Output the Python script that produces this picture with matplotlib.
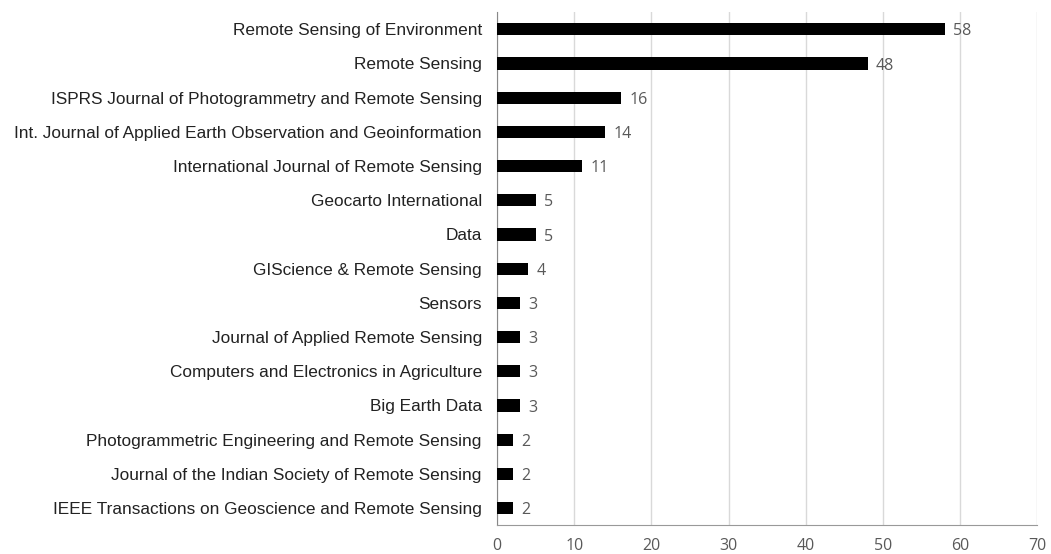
import matplotlib
matplotlib.use('Agg')
import matplotlib.pyplot as plt

journals = ['Remote Sensing of Environment', 'Remote Sensing',
            'ISPRS Journal of Photogrammetry and Remote Sensing',
            'Int. Journal of Applied Earth Observation and Geoinformation',
            'International Journal of Remote Sensing', 'Geocarto International',
            'Data', 'GIScience & Remote Sensing', 'Sensors',
            'Journal of Applied Remote Sensing',
            'Computers and Electronics in Agriculture', 'Big Earth Data',
            'Photogrammetric Engineering and Remote Sensing',
            'Journal of the Indian Society of Remote Sensing',
            'IEEE Transactions on Geoscience and Remote Sensing']
counts = [58, 48, 16, 14, 11, 5, 5, 4, 3, 3, 3, 3, 2, 2, 2]
xticks = [0, 10, 20, 30, 40, 50, 60, 70]

fig = plt.figure(figsize=(10.51, 5.54), dpi=100)
ax = fig.add_axes([0.473, 0.052, 0.514, 0.926])

ypos = list(range(len(journals)))
ax.barh(ypos, counts, height=0.36, color='black', zorder=3)
for y, c in zip(ypos, counts):
    ax.text(c + 1.1, y + 0.06, str(c), va='center', ha='left', fontsize=11.5,
            color='#595959', family='Open Sans')

ax.set_ylim(len(journals) - 0.5, -0.5)
ax.set_xlim(0, 70)
ax.set_yticks(ypos)
ax.set_yticklabels(journals, fontsize=12.4, family='Liberation Sans', color='#222222')
ax.set_xticks(xticks)
ax.set_xticklabels([str(t) for t in xticks], fontsize=11.5, family='Open Sans', color='#595959')
ax.tick_params(axis='y', length=0, pad=11)
ax.tick_params(axis='x', length=0, pad=9)
ax.grid(axis='x', color='#d9d9d9', linewidth=1, zorder=0)
for s in ['top', 'right']:
    ax.spines[s].set_visible(False)
ax.spines['left'].set_color('#888888')
ax.spines['bottom'].set_color('#999999')

plt.savefig('out.png', dpi=100)
